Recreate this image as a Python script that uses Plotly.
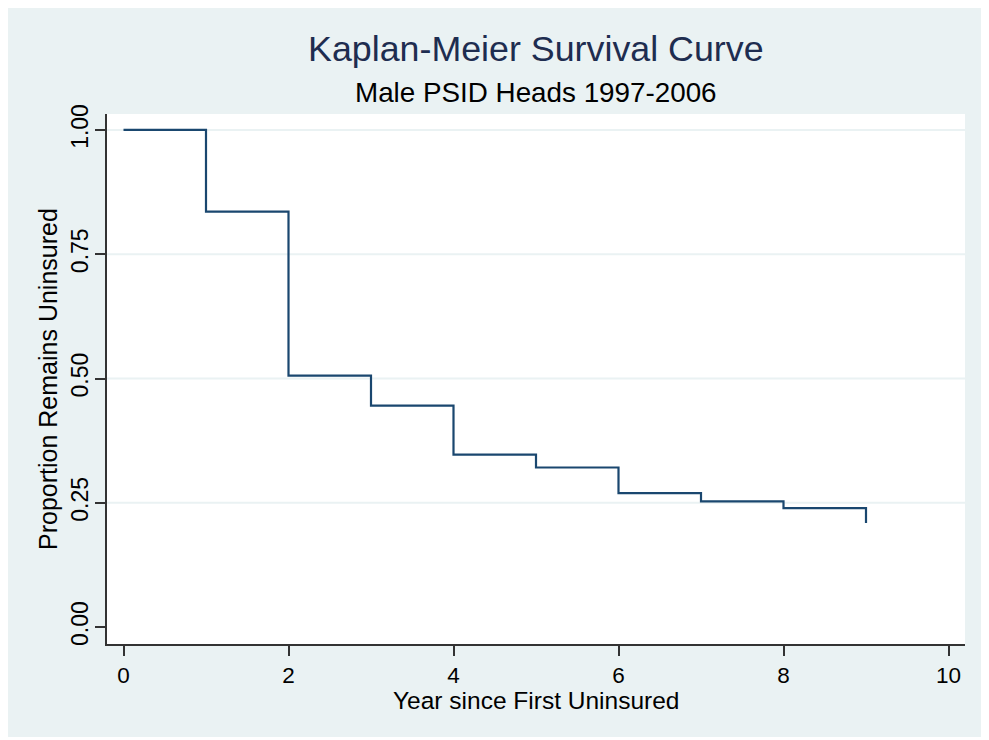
import plotly.graph_objects as go

# Data
years = [0, 1, 2, 3, 4, 5, 6, 7, 8, 9]
survival = [1.0, 0.8356, 0.5057, 0.4453, 0.3467, 0.321, 0.2696, 0.2527, 0.2394, 0.2093]
y_ticks = [0.0, 0.25, 0.5, 0.75, 1.0]
y_tick_labels = ["0.00", "0.25", "0.50", "0.75", "1.00"]
x_ticks = [0, 2, 4, 6, 8, 10]
grid_vals = [0.25, 0.5, 0.75, 1.0]

BG = "#EAF2F3"
LINE = "#1A476F"
AX = "#333333"
FONT = "Liberation Sans, Arial, sans-serif"

fig = go.Figure()
fig.add_trace(go.Scatter(
    x=years, y=survival, mode="lines", line=dict(shape="hv", color=LINE, width=2.2),
    showlegend=False, hoverinfo="x+y"))

# page body has an 8px margin: figure coordinates = reference pixels - 8
W, H = 981, 729
L, R, T, B = 99, 24, 106, 93
pw, ph = W - L - R, H - T - B

shapes = [
    dict(type="rect", xref="paper", yref="paper", x0=0, x1=1, y0=0, y1=1,
         fillcolor="white", line=dict(width=0), layer="below"),
]
for g in grid_vals:
    shapes.append(dict(type="line", xref="paper", yref="y", x0=0, x1=1, y0=g, y1=g,
                       line=dict(color=BG, width=2), layer="below"))

def py(pix):  # figure pixel (from top) -> paper y
    return (H - B - pix) / ph

def px(pix):
    return (pix - L) / pw

fig.update_layout(
    width=W, height=H,
    margin=dict(l=L, r=R, t=T, b=B),
    paper_bgcolor=BG, plot_bgcolor="rgba(0,0,0,0)",
    font=dict(family=FONT, color="black"),
    shapes=shapes,
    xaxis=dict(range=[-0.2, 10.2], tickvals=x_ticks, ticks="outside", ticklen=10,
               tickwidth=1.5, tickcolor=AX, showline=True, linecolor=AX, linewidth=1.5,
               showgrid=False, zeroline=False, tickfont=dict(size=22.5),
               ticklabelstandoff=0),
    yaxis=dict(range=[-0.034, 1.032], tickvals=y_ticks, ticktext=y_tick_labels,
               ticks="outside", ticklen=10, tickwidth=1.5, tickcolor=AX,
               showline=True, linecolor=AX, linewidth=1.5, showgrid=False, zeroline=False,
               tickangle=-90, tickfont=dict(size=23), ticklabelstandoff=-2),
    annotations=[
        dict(text="Kaplan-Meier Survival Curve", xref="paper", yref="paper",
             x=0.5, y=py(52 - 8 - 2.5), xanchor="center", yanchor="middle",
             showarrow=False, font=dict(size=35.8, color="#1E2D50")),
        dict(text="Male PSID Heads 1997-2006", xref="paper", yref="paper",
             x=0.5, y=py(94 - 8 - 2), xanchor="center", yanchor="middle",
             showarrow=False, font=dict(size=27.8, color="black")),
        dict(text="Year since First Uninsured", xref="paper", yref="paper",
             x=0.5, y=py(702 - 8 - 2), xanchor="center", yanchor="middle",
             showarrow=False, font=dict(size=24.5)),
        dict(text="Proportion Remains Uninsured", xref="paper", yref="paper",
             x=px(48 - 8), y=py(379 - 8), xanchor="center", yanchor="middle",
             textangle=-90, showarrow=False, font=dict(size=25)),
    ],
)

fig.write_html("out.html")
